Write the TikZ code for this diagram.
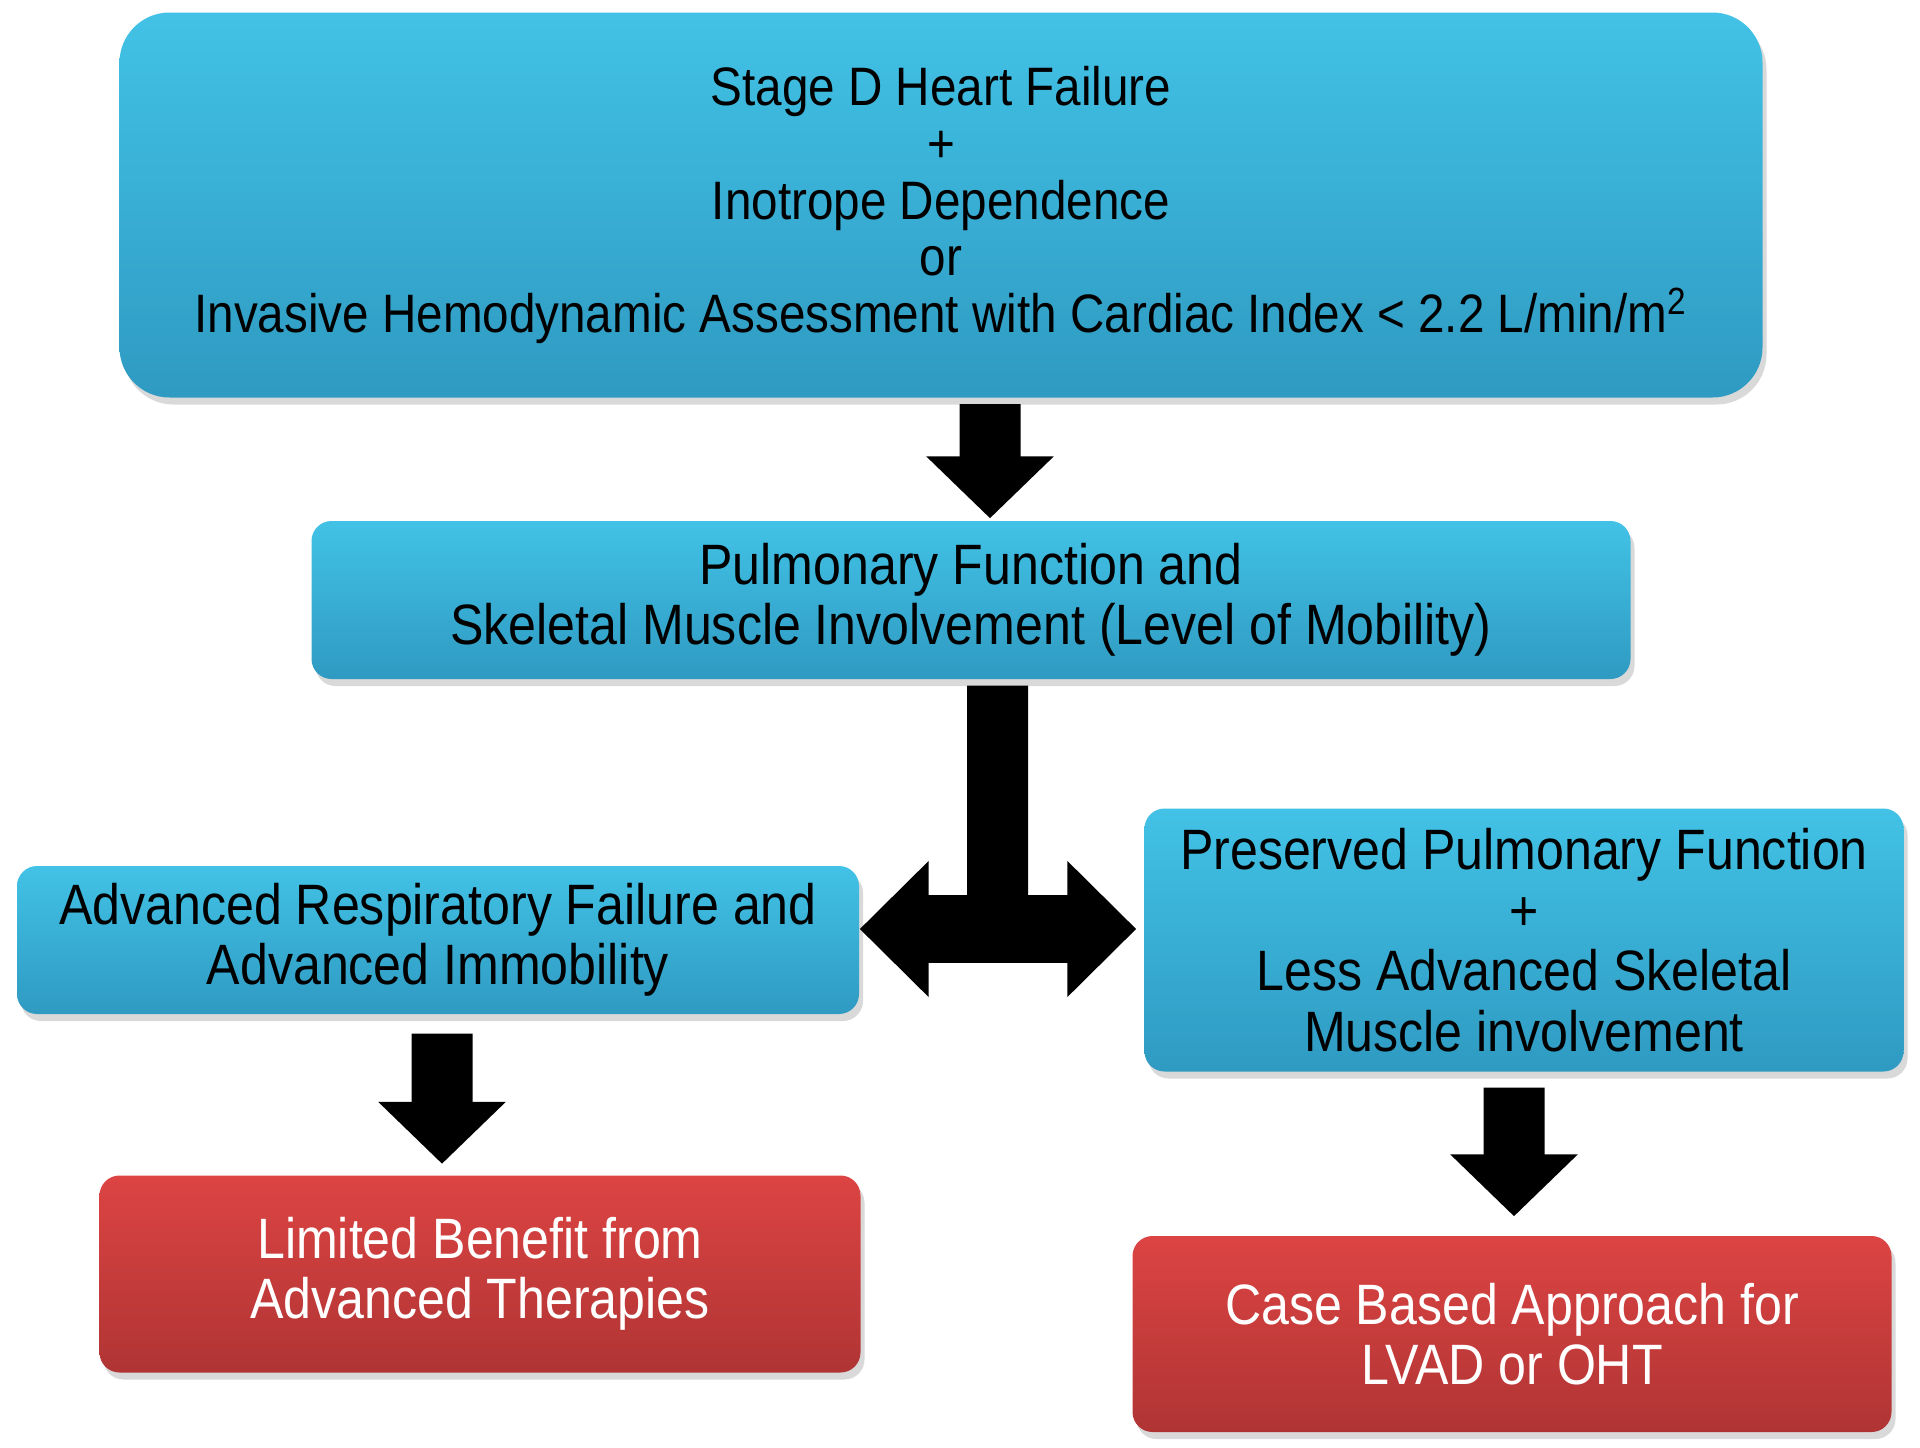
\documentclass[tikz,border=0pt]{standalone}
\usepackage{fontspec}
\setmainfont{Liberation Sans}[FakeStretch=0.88]
\usetikzlibrary{arrows.meta}
\usetikzlibrary{shadows}
\definecolor{bluetop}{HTML}{42C2E6}
\definecolor{bluebot}{HTML}{2F9AC2}
\definecolor{redtop}{HTML}{DC4443}
\definecolor{redbot}{HTML}{B03434}

\begin{document}
\begin{tikzpicture}[x=0.1mm, y=-0.1mm,
		bluebox/.style={rounded corners=2mm, top color=bluetop, bottom color=bluebot, draw=none, align=center, inner sep=0pt, font=\fontsize{16.2}{17.2}\selectfont, drop shadow={shadow xshift=0.4mm, shadow yshift=-0.7mm, opacity=0.3}},
		redbox/.style={bluebox, top color=redtop, bottom color=redbot, text=white},
		fat/.style={line width=6.1mm, -{Triangle[length=6.2mm, width=12.4mm]}}]
			\useasboundingbox (0,0) rectangle (1920,1447);
			\node[bluebox, rounded corners=5mm, minimum width=164.3mm, minimum height=38.5mm, font=\fontsize{15.4}{16.2}\selectfont] (stage) at (941,205) {Stage D Heart Failure\\+\\Inotrope Dependence\\or\\Invasive Hemodynamic Assessment with Cardiac Index < 2.2 L/min/m\textsuperscript{2}};
			\node[bluebox, minimum width=131.9mm, minimum height=15.8mm] (pulm) at (971,600) {Pulmonary Function and\\Skeletal Muscle Involvement (Level of Mobility)};
			\node[bluebox, minimum width=84.2mm, minimum height=14.8mm] (resp) at (438,940) {Advanced Respiratory Failure and\\Advanced Immobility};
			\node[bluebox, minimum width=75.9mm, minimum height=26.3mm] (pres) at (1524,940) {Preserved Pulmonary Function\\+\\Less Advanced Skeletal\\Muscle involvement};
			\node[redbox, minimum width=76.1mm, minimum height=19.7mm] (limit) at (480,1274) {Limited Benefit from\\Advanced Therapies};
			\node[redbox, minimum width=75.9mm, minimum height=19.6mm] (case) at (1512,1334) {Case Based Approach for\\LVAD or OHT};
			\coordinate (split) at (997.5,929);
			\draw[fat, shorten <=0.6mm, shorten >=0.2mm] ([xshift=4.9mm]stage.south) -- ([xshift=1.9mm]pulm.north);
			\draw[line width=6.1mm, shorten <=0.6mm] ([xshift=2.65mm]pulm.south) -- (split);
			\draw[line width=6.8mm, {Triangle[length=6.9mm, width=13.2mm]}-{Triangle[length=6.9mm, width=13.2mm]}, shorten >=0.75mm] (split -| resp.east) -- (split -| pres.west);
			\draw[fat, shorten <=1.9mm, shorten >=1.1mm] ([xshift=0.4mm]resp.south) -- ([xshift=-3.8mm]limit.north);
			\draw[fat, shorten <=1.55mm, shorten >=1.9mm] ([xshift=-1mm]pres.south) -- ([xshift=0.2mm]case.north);
\end{tikzpicture}
\end{document}
